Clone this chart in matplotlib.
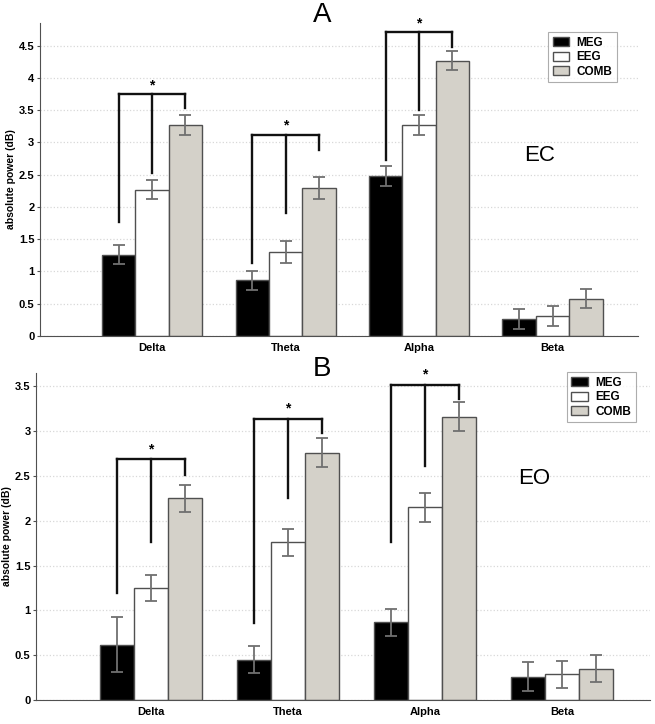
import numpy as np
import matplotlib
matplotlib.use("Agg")
from matplotlib import pyplot as plt

plt.rcParams['font.family'] = ['Liberation Sans', 'DejaVu Sans']

bands = ['Delta', 'Theta', 'Alpha', 'Beta']
series = ['MEG', 'EEG', 'COMB']
colors = ['#000000', '#ffffff', '#d4d1c9']

# EC (eyes closed) - panel A
ec_mean = [[1.26, 0.86, 2.48, 0.26],
           [2.27, 1.30, 3.27, 0.31],
           [3.27, 2.30, 4.27, 0.58]]
ec_err = [[0.15, 0.15, 0.15, 0.16],
          [0.15, 0.17, 0.15, 0.16],
          [0.15, 0.17, 0.15, 0.15]]

# EO (eyes open) - panel B
eo_mean = [[0.62, 0.45, 0.87, 0.26],
           [1.25, 1.76, 2.15, 0.29],
           [2.25, 2.76, 3.16, 0.35]]
eo_err = [[0.31, 0.15, 0.15, 0.16],
          [0.15, 0.15, 0.16, 0.15],
          [0.15, 0.16, 0.16, 0.15]]

# significance brackets: group index, top height, leg ends (MEG, EEG, COMB)
ec_sig_group = [0, 1, 2]
ec_sig_top = [3.75, 3.12, 4.71]
ec_sig_legs = [[1.77, 2.53, 3.53], [1.13, 1.90, 2.88], [2.73, 3.50, 4.48]]

eo_sig_group = [0, 1, 2]
eo_sig_top = [2.69, 3.14, 3.52]
eo_sig_legs = [[1.19, 1.76, 2.51], [0.86, 2.25, 2.98], [1.76, 2.61, 3.36]]

w = 0.25
x = np.arange(len(bands))

fig = plt.figure(figsize=(6.55, 7.24), dpi=100)
ax1 = fig.add_axes([0.061, 0.536, 0.913, 0.432])
ax2 = fig.add_axes([0.055, 0.033, 0.937, 0.452])


def draw(ax, mean, err, sig_group, sig_top, sig_legs, ymax, cond, cond_x, cond_y, leg_loc):
    ax.set_axisbelow(True)
    ax.yaxis.grid(True, color='#d8d8d8', linestyle=':', linewidth=0.9)
    for i in range(3):
        ax.bar(x + (i - 1) * w, mean[i], w, color=colors[i], edgecolor='#505050',
               linewidth=1.0, label=series[i], zorder=2)
        ax.errorbar(x + (i - 1) * w, mean[i], yerr=err[i], fmt='none',
                    ecolor='#707070', elinewidth=1.3, capsize=4.5, capthick=1.3, zorder=3)
    for g, top, legs in zip(sig_group, sig_top, sig_legs):
        xs = [g - w, g, g + w]
        ax.plot([xs[0], xs[2]], [top, top], color='#111111', lw=1.7, zorder=4)
        for xx, yy in zip(xs, legs):
            ax.plot([xx, xx], [yy, top], color='#111111', lw=1.7, zorder=4)
        ax.text(g, top + 0.03, '*', ha='center', va='bottom', fontsize=10, fontweight='bold')
    ax.set_xlim(-0.84, 3.64)
    ax.set_ylim(0, ymax)
    ax.set_yticks(np.arange(0, ymax, 0.5))
    ax.set_yticklabels(['%g' % v for v in np.arange(0, ymax, 0.5)])
    ax.set_xticks(x)
    ax.set_xticklabels(bands)
    for lab in ax.get_xticklabels() + ax.get_yticklabels():
        lab.set_fontweight('bold')
        lab.set_fontsize(8)
    ax.tick_params(axis='x', length=0, pad=5)
    ax.tick_params(axis='y', length=2, pad=2, color='#505050')
    ax.spines['top'].set_visible(False)
    ax.spines['right'].set_visible(False)
    ax.spines['left'].set_color('#505050')
    ax.spines['bottom'].set_color('#505050')
    ax.set_ylabel('absolute power (dB)', fontsize=7.5, fontweight='bold', labelpad=2)
    ax.text(cond_x, cond_y, cond, fontsize=16, ha='center', va='center')
    leg = ax.legend(loc='upper left', bbox_to_anchor=leg_loc,
                    prop={'weight': 'bold', 'size': 8.5}, frameon=True, fancybox=False,
                    edgecolor='#999999', handlelength=1.4, handleheight=0.8,
                    labelspacing=0.2, borderpad=0.4, handletextpad=0.6)
    leg.get_frame().set_linewidth(0.8)


draw(ax1, ec_mean, ec_err, ec_sig_group, ec_sig_top, ec_sig_legs, 4.85,
     'EC', 2.9, 2.8, (0.84, 0.99))
draw(ax2, eo_mean, eo_err, eo_sig_group, eo_sig_top, eo_sig_legs, 3.65,
     'EO', 2.8, 2.47, (0.855, 1.02))

fig.text(0.492, 0.979, 'A', fontsize=20, ha='center', va='center')
fig.text(0.492, 0.49, 'B', fontsize=20, ha='center', va='center')

plt.savefig('out.png', dpi=100)
